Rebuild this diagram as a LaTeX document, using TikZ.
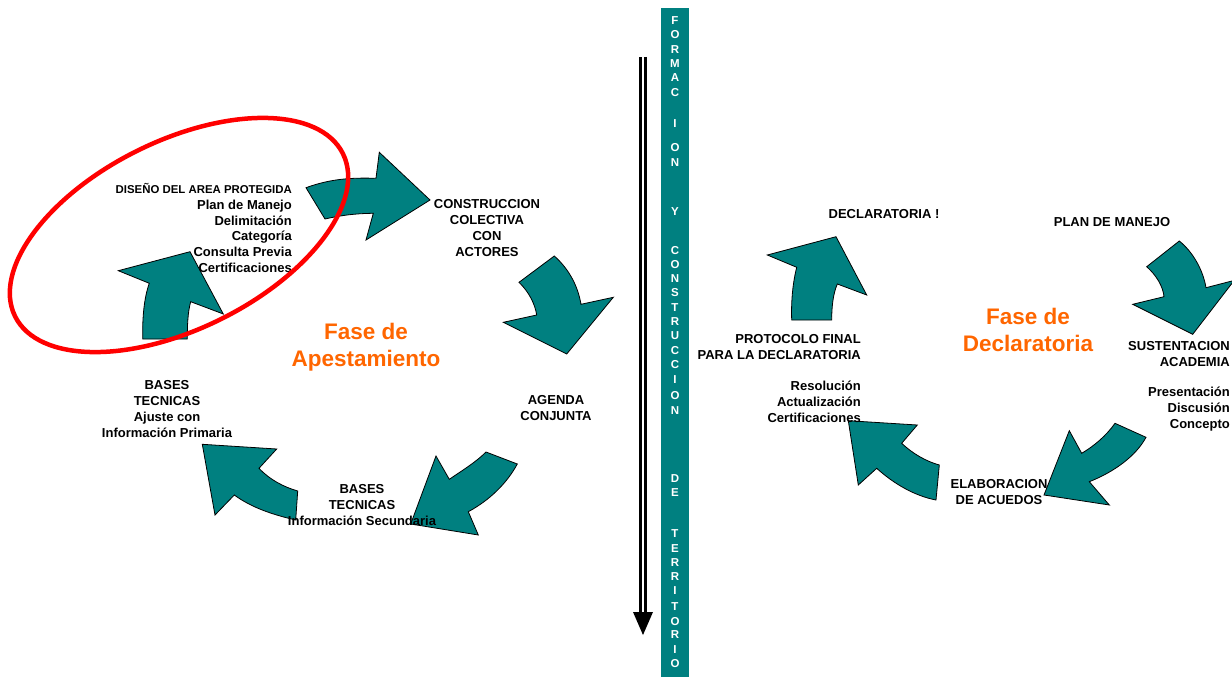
\documentclass[tikz,border=0pt]{standalone}
\usepackage{fontspec}
\setmainfont{Liberation Sans}
\definecolor{arrowteal}{RGB}{0,128,128}
\definecolor{faseorange}{RGB}{255,102,0}
\begin{document}
\begin{tikzpicture}[x=1pt,y=-1pt,
   blockarrow/.style={fill=arrowteal,draw=black,line width=0.8pt,line join=miter},
   textblock/.style={font=\bfseries\fontsize{13}{15.8}\selectfont,inner sep=0pt,align=center},
   fase/.style={font=\bfseries\fontsize{22.5}{27}\selectfont,text=faseorange,inner sep=0pt,align=center},
   barletter/.style={font=\bfseries\fontsize{11.5}{12}\selectfont,text=white,inner sep=0pt}]
   \fill[white] (0,0) rectangle (1232,677);
   \clip (0,0) rectangle (1232,677);
   \fill[arrowteal] (661,8) rectangle (689,677);
   \foreach \ch/\yy in {F/21,O/35,R/50,M/64,A/78,C/93,I/124,O/148,N/163,Y/212,C/251,O/265,N/279,S/293,T/308,R/322,U/336,C/351,C/365,I/380,O/396,N/411,D/479,E/493,T/534,E/549,R/563,R/577,I/591,T/607,O/622,R/635,I/650,O/664}
      \node[barletter] (bar\yy) at (675,\yy) {\ch};
   \coordinate (flowtop) at (643,57);
   \coordinate (flowhead) at (643,613);
   \coordinate (flowtip) at (643,635);
   \draw[double=white,double distance=1.5pt,line width=2.8pt] (flowtop) -- (flowhead);
   \fill[black] (633,612) -- (653,612) -- (flowtip) -- cycle;

   \filldraw[blockarrow] (142.7,339) .. controls (142.3,318) and (144,298) .. (149.3,283.3) -- (118.3,270.7) -- (190,251.7) -- (223.3,314) -- (190.7,301.7) .. controls (187.8,312) and (187.3,325) .. (187.3,339) -- cycle;
   \filldraw[blockarrow] (306,187.7) .. controls (330,179) and (350,177.5) .. (376,178.3) -- (379.3,152.3) -- (430,200) -- (366,240) -- (373.3,213.3) .. controls (355,213.5) and (340,215.5) .. (325,219) -- cycle;
   \filldraw[blockarrow] (519,282.3) -- (554.3,256) .. controls (570,270) and (578,287) .. (581,304.3) -- (613.3,297.3) -- (566.7,354) -- (503.3,322.3) -- (536.7,315) .. controls (535,304) and (529,292) .. (519,282.3) -- cycle;
   \filldraw[blockarrow] (486,452) -- (517.3,464) .. controls (507,483) and (490,500) .. (468.3,511.7) -- (478.3,535) -- (410.7,524) -- (436,456) -- (449.3,479.3) .. controls (463,470) and (476,462) .. (486,452) -- cycle;
   \filldraw[blockarrow] (202.3,444.3) -- (276.7,449) -- (259,468.3) .. controls (270,480) and (284,487) .. (297.7,491) -- (295.7,520) .. controls (274,515) and (252,508) .. (234.3,495) -- (215,515) -- cycle;
   \filldraw[blockarrow] (791.7,320) .. controls (791,300) and (793,282) .. (796.7,267.3) -- (767.3,255) -- (836,236.7) -- (866.7,295) -- (837.3,284) .. controls (833,294) and (831.7,307) .. (831.7,320) -- cycle;
   \filldraw[blockarrow] (1146.7,266.7) -- (1179.3,241) .. controls (1193,252) and (1203,270) .. (1206,287.7) -- (1234.2,280.4) -- (1192.7,334.3) -- (1132.7,304.3) -- (1164,296.7) .. controls (1163,286) and (1156,275) .. (1146.7,266.7) -- cycle;
   \filldraw[blockarrow] (1115,423.3) -- (1146,437.3) .. controls (1136,456) and (1114,472) .. (1089.3,481.7) -- (1109.3,505) -- (1044,495) -- (1069.3,430.7) -- (1081.7,453.3) .. controls (1094,446) and (1106,436) .. (1115,423.3) -- cycle;
   \filldraw[blockarrow] (848.3,420.7) -- (917.3,425) -- (901.7,443.3) .. controls (912,453) and (925,461) .. (939.3,465) -- (936,500) .. controls (915,496) and (894,484) .. (876.7,468.3) -- (858.3,485) -- cycle;

   \node[textblock,anchor=east,align=right] (diseno) at (292,228) {{\fontsize{11.4}{15.8}\selectfont DISEÑO DEL AREA PROTEGIDA}\\Plan de Manejo\\Delimitación\\Categoría\\Consulta Previa\\Certificaciones};
   \node[textblock] (construccion) at (487,228) {CONSTRUCCION\\COLECTIVA\\CON\\ACTORES};
   \node[textblock] (agenda) at (556,408) {AGENDA\\CONJUNTA};
   \node[textblock] (secundaria) at (362,505) {BASES\\TECNICAS\\Información Secundaria};
   \node[textblock] (primaria) at (167,409) {BASES\\TECNICAS\\Ajuste con\\Información Primaria};
   \node[fase] (apestamiento) at (366,347) {Fase de\\Apestamiento};

   \node[textblock] (declaratoria) at (884,214) {DECLARATORIA !};
   \node[textblock] (planmanejo) at (1112,222) {PLAN DE MANEJO};
   \node[fase] (fasedecl) at (1028,330) {Fase de\\Declaratoria};
   \node[textblock,anchor=east,align=right] (sustentacion) at (1230,354) {SUSTENTACION\\ACADEMIA};
   \node[textblock,anchor=east,align=right] (presentacion) at (1230,409) {Presentación\\Discusión\\Concepto};
   \node[textblock] (elaboracion) at (999,492) {ELABORACION\\DE ACUEDOS};
   \node[textblock,anchor=east,align=right] (protocolo) at (861,347) {PROTOCOLO FINAL\\PARA LA DECLARATORIA};
   \node[textblock,anchor=east,align=right] (resolucion) at (861,402) {Resolución\\Actualización\hspace{4pt}\\Certificaciones};

   \draw[red,line width=4.5pt,rotate around={26.4:(179,235)}] (179,235) ellipse [x radius=183pt,y radius=94pt];
\end{tikzpicture}
\end{document}
